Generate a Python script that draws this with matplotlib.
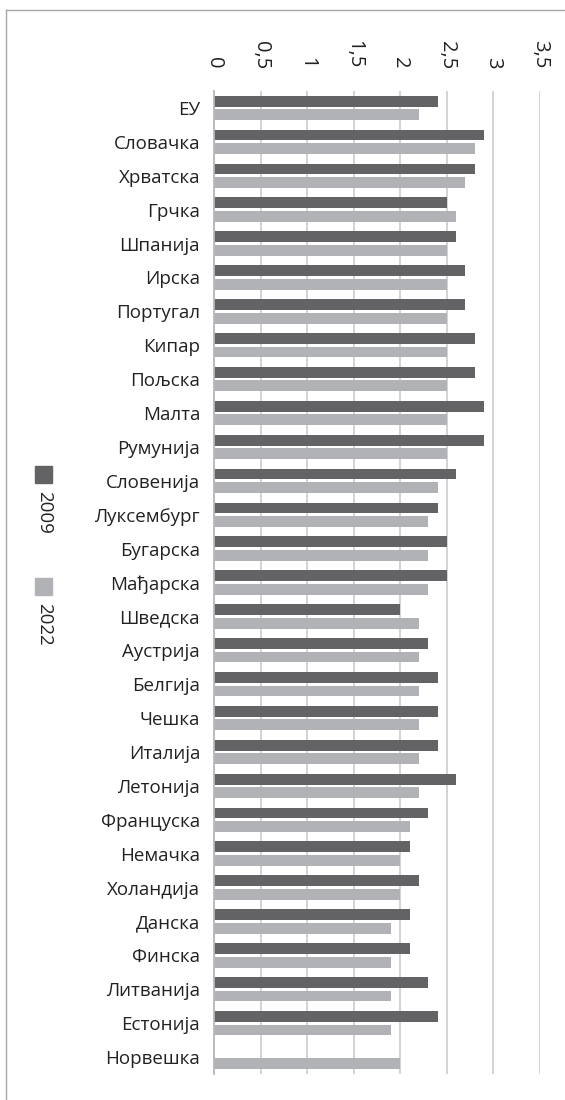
import numpy as np
import matplotlib
matplotlib.use("Agg")
from matplotlib import pyplot as plt
from matplotlib.patches import Rectangle
from matplotlib.lines import Line2D
from matplotlib.ticker import FuncFormatter

plt.rcParams['font.family'] = ['Open Sans', 'DejaVu Sans']

countries = ['ЕУ', 'Словачка', 'Хрватска', 'Грчка', 'Шпанија', 'Ирска', 'Португал',
             'Кипар', 'Пољска', 'Малта', 'Румунија', 'Словенија', 'Луксембург',
             'Бугарска', 'Мађарска', 'Шведска', 'Аустрија', 'Белгија', 'Чешка',
             'Италија', 'Летонија', 'Француска', 'Немачка', 'Холандија', 'Данска',
             'Финска', 'Литванија', 'Естонија', 'Норвешка']
vals_2009 = [2.4, 2.9, 2.8, 2.5, 2.6, 2.7, 2.7, 2.8, 2.8, 2.9, 2.9, 2.6, 2.4,
             2.5, 2.5, 2.0, 2.3, 2.4, 2.4, 2.4, 2.6, 2.3, 2.1, 2.2, 2.1,
             2.1, 2.3, 2.4, np.nan]
vals_2022 = [2.2, 2.8, 2.7, 2.6, 2.5, 2.5, 2.5, 2.5, 2.5, 2.5, 2.5, 2.4, 2.3,
             2.3, 2.3, 2.2, 2.2, 2.2, 2.2, 2.2, 2.2, 2.1, 2.0, 2.0, 1.9,
             1.9, 1.9, 1.9, 2.0]
series_names = ['2009', '2022']
x_ticks = [0, 0.5, 1, 1.5, 2, 2.5, 3, 3.5]

dark = '#636366'
light = '#b1b2b5'
grid_col = '#c8c8cc'

fig = plt.figure(figsize=(5.65, 11), dpi=100)
W, H = 565, 1100
ax = fig.add_axes([214 / W, 1 - 1074 / H, (540 - 214) / W, (1074 - 91) / H])

y = np.arange(len(countries))
bh = 0.32
ax.barh(y - 0.2, vals_2009, height=bh, color=dark, zorder=3)
ax.barh(y + 0.2, vals_2022, height=bh, color=light, zorder=3)

ax.set_xlim(0, 3.5)
ax.set_ylim(len(countries) - 0.5, -0.5)
ax.set_xticks(x_ticks)
ax.xaxis.set_major_formatter(FuncFormatter(lambda v, p: ('%g' % v).replace('.', ',')))
ax.xaxis.tick_top()
ax.tick_params(axis='x', length=0, pad=16, labelsize=14.5, labelcolor='#222222', labelrotation=-90)
ax.set_yticks(y)
ax.set_yticklabels(countries)
ax.tick_params(axis='y', length=0, pad=10, labelsize=13.5, labelcolor='#222222')

ax.grid(axis='x', color=grid_col, linewidth=1.1, zorder=0)
for s in ['top', 'right', 'bottom']:
    ax.spines[s].set_visible(False)
ax.spines['left'].set_color('#b8b8bc')
ax.spines['left'].set_linewidth(1.3)
ax.spines['left'].set_zorder(4)

# legend drawn by hand (rotated like the original)
def px(xp, yp):
    return xp / W, 1 - yp / H

for (ytop, col, name) in [(466, dark, series_names[0]), (578, light, series_names[1])]:
    x0, y0 = px(35, ytop + 17)
    fig.patches.append(Rectangle((x0, y0), 17 / W, 17 / H, transform=fig.transFigure,
                                 color=col, figure=fig))
    tx, ty = px(44, ytop + 25)
    fig.text(tx, ty, name, rotation=-90, ha='center', va='top', fontsize=13.5, color='#222222')

# outer frame (left and top)
fig.add_artist(Line2D([6 / W, 6 / W], [0, 1 - 10 / H], transform=fig.transFigure,
                      color='#a8a8a8', linewidth=1))
fig.add_artist(Line2D([6 / W, 1], [1 - 10 / H, 1 - 10 / H], transform=fig.transFigure,
                      color='#a8a8a8', linewidth=1))

fig.savefig('out.png', dpi=100)
